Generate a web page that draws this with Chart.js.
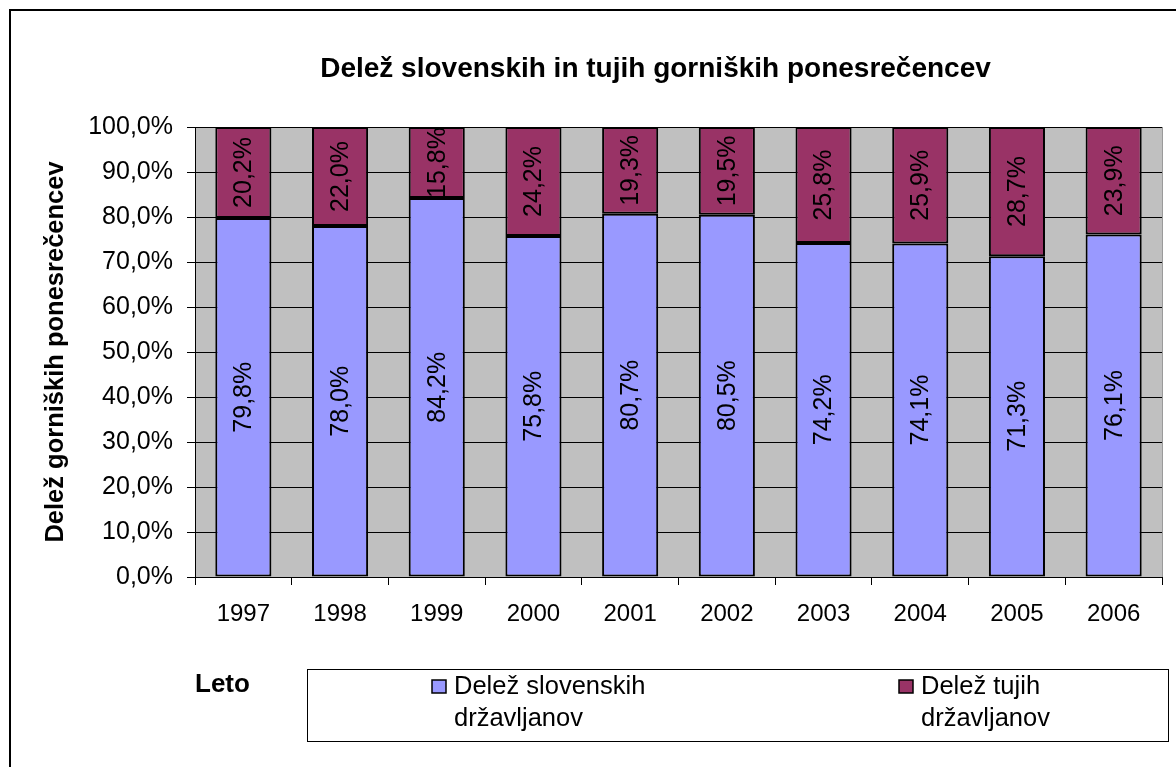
<!DOCTYPE html>
<html>
<head>
<meta charset="utf-8">
<title>Delež slovenskih in tujih gorniških ponesrečencev</title>
<script src="https://cdn.jsdelivr.net/npm/chart.js@4.4.1/dist/chart.umd.min.js"></script>
<style>
  html, body { margin: 0; padding: 0; background: #fff; overflow: hidden; }
  canvas { display: block; }
</style>
</head>
<body>
<canvas id="chart" width="1176" height="767"></canvas>
<script>
// data
const years = ["1997", "1998", "1999", "2000", "2001", "2002", "2003", "2004", "2005", "2006"];
const slovenian = [79.8, 78.0, 84.2, 75.8, 80.7, 80.5, 74.2, 74.1, 71.3, 76.1];
const foreign = [20.2, 22.0, 15.8, 24.2, 19.3, 19.5, 25.8, 25.9, 28.7, 23.9];
const yMax = 100;
const yStep = 10;

const FONT = 'Arial, "Liberation Sans", sans-serif';
const TXT = 25;

Chart.defaults.font.family = FONT;
Chart.defaults.color = "#000";

// 79.8 -> "79,8%"
const pct = (v) => Number(v).toFixed(1).replace(".", ",") + "%";

// grey plot area + outer frame
const plotBackground = {
  id: "plotBackground",
  afterLayout(chart) {
    // title sits a bit left of the plot centre in the original
    if (chart.titleBlock) chart.titleBlock.left -= 46;
  },
  beforeDraw(chart) {
    const { ctx, chartArea: a } = chart;
    ctx.save();
    ctx.fillStyle = "#fff";
    ctx.fillRect(0, 0, chart.width, chart.height);
    ctx.fillStyle = "#c0c0c0";
    ctx.fillRect(a.left, a.top, a.right - a.left, a.bottom - a.top);
    ctx.strokeStyle = "#000";
    ctx.lineWidth = 2;
    ctx.beginPath();
    ctx.moveTo(10, chart.height);
    ctx.lineTo(10, 10);
    ctx.lineTo(chart.width, 10);
    ctx.stroke();
    ctx.restore();
  },
  afterDraw(chart) {
    const { ctx, chartArea: a } = chart;
    ctx.save();
    ctx.strokeStyle = "#9a9a9a";
    ctx.lineWidth = 1;
    ctx.beginPath();
    ctx.moveTo(a.right + 0.5, a.top);
    ctx.lineTo(a.right + 0.5, a.bottom);
    ctx.stroke();
    ctx.restore();
  },
};

// vertical value labels in the middle of each segment
const barLabels = {
  id: "barLabels",
  afterDatasetsDraw(chart) {
    const { ctx } = chart;
    ctx.save();
    ctx.font = TXT + "px " + FONT;
    ctx.fillStyle = "#000";
    ctx.textAlign = "center";
    ctx.textBaseline = "middle";
    chart.data.datasets.forEach((ds, i) => {
      chart.getDatasetMeta(i).data.forEach((bar, j) => {
        ctx.save();
        ctx.translate(bar.x, (bar.y + bar.base) / 2);
        ctx.rotate(-Math.PI / 2);
        ctx.fillText(pct(ds.data[j]), 0, 1);
        ctx.restore();
      });
    });
    ctx.restore();
  },
};

// boxed legend under the axis, labels wrap on two lines
const boxLegend = {
  id: "boxLegend",
  afterDraw(chart) {
    const { ctx } = chart;
    const box = { left: 307, top: 669, right: 1168, bottom: 741 };
    const itemX = [432, 899];
    ctx.save();
    ctx.strokeStyle = "#000";
    ctx.lineWidth = 1;
    ctx.strokeRect(box.left + 0.5, box.top + 0.5, box.right - box.left, box.bottom - box.top);
    ctx.font = "25.5px " + FONT;
    ctx.textAlign = "left";
    ctx.textBaseline = "middle";
    chart.data.datasets.forEach((ds, i) => {
      const x = itemX[i];
      ctx.fillStyle = ds.backgroundColor;
      ctx.fillRect(x, 680, 14, 13);
      ctx.lineWidth = 1.5;
      ctx.strokeRect(x, 680, 14, 13);
      // simple word wrap
      const words = ds.label.split(" ");
      const lines = [];
      let line = "";
      words.forEach((w) => {
        const test = line ? line + " " + w : w;
        if (ctx.measureText(test).width > 220 && line) {
          lines.push(line);
          line = w;
        } else {
          line = test;
        }
      });
      lines.push(line);
      ctx.fillStyle = "#000";
      lines.forEach((l, k) => ctx.fillText(l, x + 22, 687 + k * 32));
    });
    ctx.restore();
  },
};

new Chart(document.getElementById("chart"), {
  type: "bar",
  data: {
    labels: years,
    datasets: [
      {
        label: "Delež slovenskih državljanov",
        data: slovenian,
        backgroundColor: "#9999ff",
        borderColor: "#000",
        borderWidth: 2,
        borderSkipped: false,
      },
      {
        label: "Delež tujih državljanov",
        data: foreign,
        backgroundColor: "#993366",
        borderColor: "#000",
        borderWidth: 2,
        borderSkipped: false,
      },
    ],
  },
  options: {
    responsive: false,
    animation: false,
    devicePixelRatio: 1,
    layout: { padding: { left: 10, right: 14, top: 10, bottom: 60 } },
    datasets: { bar: { barPercentage: 0.58, categoryPercentage: 1 } },
    plugins: {
      legend: { display: false },
      tooltip: { enabled: false },
      title: {
        display: true,
        fullSize: false,
        text: "Delež slovenskih in tujih gorniških ponesrečencev",
        color: "#000",
        font: { size: 28, weight: "bold" },
        padding: { top: 42, bottom: 41.4 },
      },
    },
    scales: {
      x: {
        stacked: true,
        grid: { offset: true, drawOnChartArea: false, drawTicks: true, tickLength: 8, color: "#000" },
        border: { color: "#000", width: 1 },
        ticks: { font: { size: 24 }, padding: 15, maxRotation: 0 },
        title: {
          display: true,
          text: "Leto",
          align: "start",
          font: { size: 26, weight: "bold" },
          padding: { top: 0, bottom: 6.4 },
        },
        afterFit(scale) {
          scale.height = 130;
        },
      },
      y: {
        stacked: true,
        min: 0,
        max: yMax,
        ticks: { stepSize: yStep, font: { size: TXT }, padding: 14, callback: (v) => pct(v) },
        grid: { color: "#000", lineWidth: 1, tickLength: 8 },
        border: { color: "#000", width: 1 },
        title: {
          display: true,
          text: "Delež gorniških ponesrečencev",
          font: { size: 25.5, weight: "bold" },
          padding: { top: 30.7 },
        },
        afterFit(scale) {
          scale.width = 185;
        },
      },
    },
  },
  plugins: [plotBackground, barLabels, boxLegend],
});
</script>
</body>
</html>
